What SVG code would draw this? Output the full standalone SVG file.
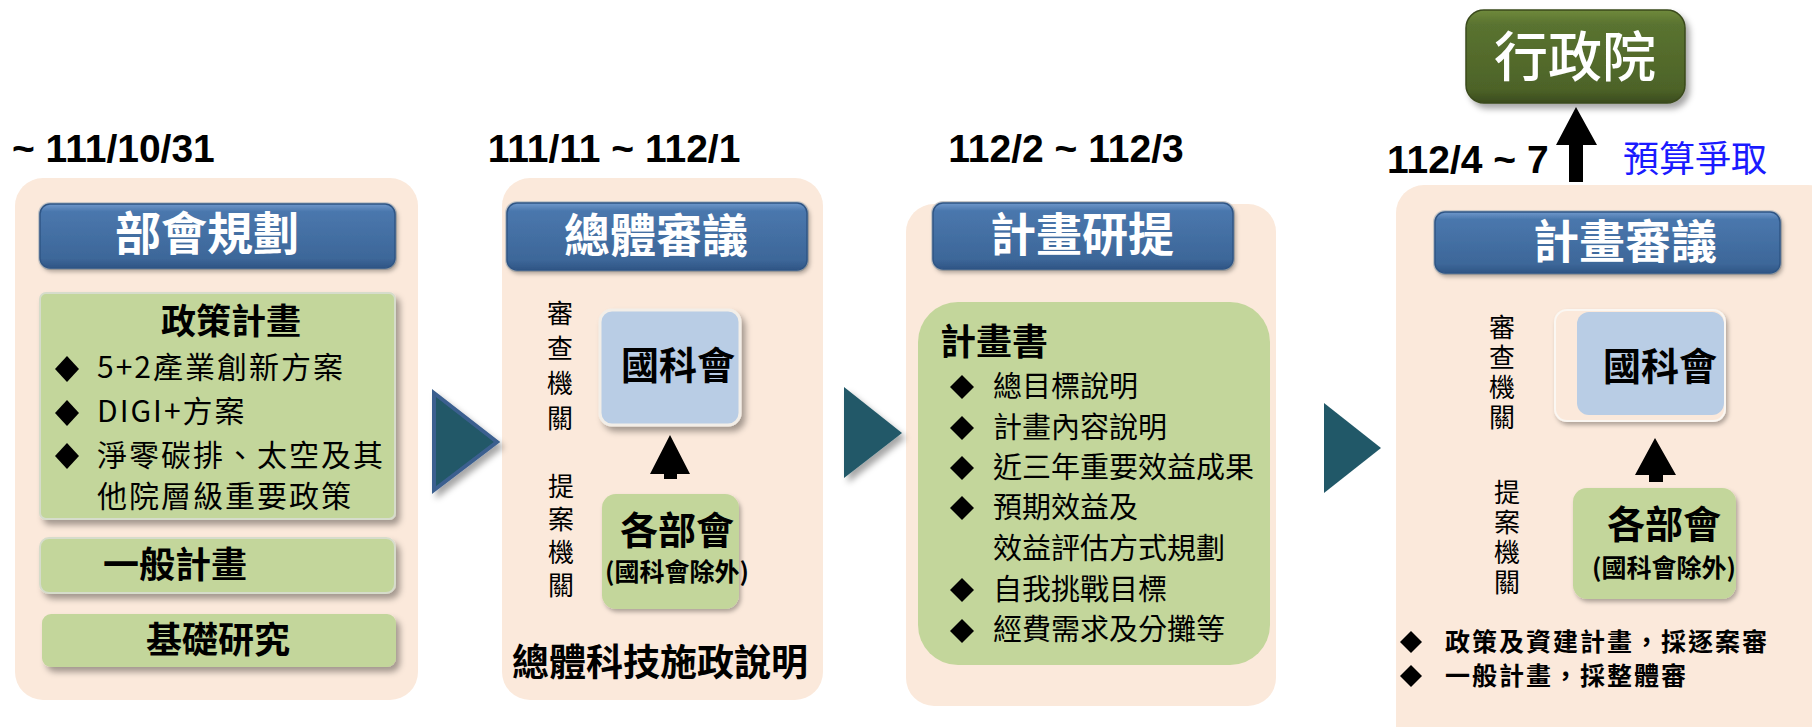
<svg xmlns="http://www.w3.org/2000/svg" width="1812" height="727" viewBox="0 0 1812 727">
<style>
.panel{fill:#FBE9DB}
.hdr{fill:url(#gBlue);stroke:#2f5585;stroke-width:1.5}
.hdrOut{fill:none;stroke:#c9c9c9;stroke-width:2}
.hdrTxt{font-family:"Noto Sans CJK TC","Noto Sans CJK SC",sans-serif;font-weight:700;font-size:46px;fill:#ffffff;text-anchor:middle}
.date{font-family:"Liberation Sans",Arial,sans-serif;font-weight:700;font-size:39px;fill:#000}
.cjk{font-family:"Noto Sans CJK TC","Noto Sans CJK SC",sans-serif;fill:#000}
.vert{font-family:"Noto Sans CJK TC","Noto Sans CJK SC",sans-serif;fill:#000;font-size:26px;writing-mode:vertical-rl}
.b{font-weight:700}
.green{fill:#C3D69B}
.blue{fill:#B9CDE5}
.tri{fill:#215868}
.dia{fill:#000}
.up{fill:#000}
</style>
<defs>
<linearGradient id="gBlue" x1="0" y1="0" x2="0" y2="1">
<stop offset="0" stop-color="#6f98cb"/>
<stop offset="0.12" stop-color="#4a77ad"/>
<stop offset="0.85" stop-color="#3d6799"/>
<stop offset="1" stop-color="#2f5585"/>
</linearGradient>
<linearGradient id="gGreen" x1="0" y1="0" x2="0" y2="1">
<stop offset="0" stop-color="#6f8a3c"/>
<stop offset="0.15" stop-color="#5a7330"/>
<stop offset="0.85" stop-color="#4d6328"/>
<stop offset="1" stop-color="#3a4b1d"/>
</linearGradient>
<filter id="sh" x="-20%" y="-20%" width="140%" height="150%">
<feDropShadow dx="4" dy="5" stdDeviation="3" flood-color="#000" flood-opacity="0.35"/>
</filter>
<filter id="shs" x="-20%" y="-20%" width="140%" height="150%">
<feDropShadow dx="2" dy="3" stdDeviation="2" flood-color="#000" flood-opacity="0.3"/>
</filter>
</defs>

<!-- Stage 1 -->
<g id="stage1">
<text class="date" x="12" y="162">~ 111/10/31</text>
<rect class="panel" x="15" y="178" width="403" height="522" rx="28"/>
<g id="hdr1">
<rect class="hdrOut" x="39" y="203" width="357" height="66" rx="11"/>
<rect class="hdr" x="40" y="204" width="355" height="64" rx="10" filter="url(#shs)"/>
<text class="hdrTxt" x="207" y="250">部會規劃</text>
</g>
<g id="policy">
<rect class="green" x="40" y="293" width="355" height="226" rx="6" stroke="#d6dccb" stroke-width="2" filter="url(#sh)"/>
<text class="cjk b" x="231" y="334" font-size="35" text-anchor="middle">政策計畫</text>
<path class="dia" d="M67,356 L79,369 L67,382 L55,369 Z"/>
<path class="dia" d="M67,400 L79,413 L67,426 L55,413 Z"/>
<path class="dia" d="M67,443 L79,456 L67,469 L55,456 Z"/>
<g class="cjk" font-size="30" letter-spacing="2">
<text x="97" y="378">5+2產業創新方案</text>
<text x="97" y="422">DIGI+方案</text>
<text x="97" y="466">淨零碳排、太空及其</text>
<text x="97" y="507">他院層級重要政策</text>
</g>
</g>
<g id="general">
<rect class="green" x="40" y="538" width="355" height="55" rx="9" stroke="#d6dccb" stroke-width="2" filter="url(#sh)"/>
<text class="cjk b" font-size="36" x="103" y="578">一般計畫</text>
</g>
<g id="basic">
<rect class="green" x="42" y="614" width="354" height="53" rx="9" filter="url(#sh)"/>
<text class="cjk b" font-size="36" x="218" y="653" text-anchor="middle">基礎研究</text>
</g>
</g>

<!-- Stage 2 -->
<g id="stage2">
<text class="date" x="614" y="162" text-anchor="middle">111/11 ~ 112/1</text>
<rect class="panel" x="502" y="178" width="321" height="522" rx="28"/>
<g id="hdr2">
<rect class="hdrOut" x="506" y="202" width="302" height="69" rx="11"/>
<rect class="hdr" x="507" y="203" width="300" height="67" rx="10" filter="url(#shs)"/>
<text class="hdrTxt" x="656" y="252">總體審議</text>
</g>
<text class="vert" x="560" y="300" letter-spacing="9">審查機關</text>
<text class="vert" x="561" y="473" letter-spacing="7">提案機關</text>
<g id="nstc2">
<rect class="blue" x="600" y="310" width="140" height="115" rx="12" stroke="#f2eee8" stroke-width="3" filter="url(#sh)"/>
<text class="cjk b" font-size="38" x="678" y="379" text-anchor="middle">國科會</text>
</g>
<g id="min2">
<rect class="green" x="602" y="494" width="137" height="115" rx="14" filter="url(#shs)"/>
<text class="cjk b" font-size="38" x="677" y="544" text-anchor="middle">各部會</text>
<text class="cjk b" font-size="25" x="677" y="581" text-anchor="middle">(國科會除外)</text>
</g>
<text class="cjk b" font-size="37" x="512" y="676">總體科技施政說明</text>
</g>

<!-- Stage 3 -->
<g id="stage3">
<text class="date" x="1066" y="162" text-anchor="middle">112/2 ~ 112/3</text>
<rect class="panel" x="906" y="204" width="370" height="502" rx="28"/>
<g id="hdr3">
<rect class="hdrOut" x="932" y="202" width="302" height="68" rx="11"/>
<rect class="hdr" x="933" y="203" width="300" height="66" rx="10" filter="url(#shs)"/>
<text class="hdrTxt" x="1082" y="251">計畫研提</text>
</g>
<g id="plan">
<rect class="green" x="918" y="302" width="352" height="363" rx="40"/>
<text class="cjk b" font-size="36" x="940" y="355">計畫書</text>
<path class="dia" d="M962,375 L974,387 L962,399 L950,387 Z"/>
<path class="dia" d="M962,416 L974,428 L962,440 L950,428 Z"/>
<path class="dia" d="M962,456 L974,468 L962,480 L950,468 Z"/>
<path class="dia" d="M962,496 L974,508 L962,520 L950,508 Z"/>
<path class="dia" d="M962,578 L974,590 L962,602 L950,590 Z"/>
<path class="dia" d="M962,619 L974,631 L962,643 L950,631 Z"/>
<g class="cjk" font-size="29">
<text x="993" y="397">總目標說明</text>
<text x="993" y="438">計畫內容說明</text>
<text x="993" y="478">近三年重要效益成果</text>
<text x="993" y="518">預期效益及</text>
<text x="993" y="559">效益評估方式規劃</text>
<text x="993" y="600">自我挑戰目標</text>
<text x="993" y="640">經費需求及分攤等</text>
</g>
</g>
</g>

<!-- Stage 4 -->
<g id="stage4">
<text class="date" x="1387" y="173">112/4 ~ 7</text>
<text class="cjk" font-size="36" x="1623" y="172" style="fill:#1a1aff">預算爭取</text>
<rect class="panel" x="1396" y="185" width="440" height="570" rx="28"/>
<g id="hdr4">
<rect class="hdrOut" x="1434" y="211" width="347" height="63" rx="11"/>
<rect class="hdr" x="1435" y="212" width="345" height="61" rx="10" filter="url(#shs)"/>
<text class="hdrTxt" x="1625" y="258">計畫審議</text>
</g>
<text class="vert" x="1502" y="314" letter-spacing="4">審查機關</text>
<text class="vert" x="1507" y="479" letter-spacing="4">提案機關</text>
<g id="nstc4">
<rect x="1555" y="310" width="170" height="111" rx="12" fill="#FBE9DB" stroke="#fbf7f2" stroke-width="2" filter="url(#shs)"/>
<rect class="blue" x="1577" y="312" width="147" height="103" rx="12"/>
<text class="cjk b" font-size="38" x="1660" y="380" text-anchor="middle">國科會</text>
</g>
<g id="min4">
<rect class="green" x="1573" y="488" width="163" height="111" rx="14" filter="url(#shs)"/>
<text class="cjk b" font-size="38" x="1664" y="538" text-anchor="middle">各部會</text>
<text class="cjk b" font-size="25" x="1664" y="577" text-anchor="middle">(國科會除外)</text>
</g>
<path class="dia" d="M1411,631 L1422,642 L1411,653 L1400,642 Z"/>
<path class="dia" d="M1411,665 L1422,676 L1411,687 L1400,676 Z"/>
<g class="cjk b" font-size="25" letter-spacing="2">
<text x="1445" y="651">政策及資建計畫，採逐案審</text>
<text x="1445" y="685">一般計畫，採整體審</text>
</g>
</g>

<g id="exec">
<rect x="1466" y="10" width="219" height="93" rx="18" fill="url(#gGreen)" stroke="#3a4a1c" stroke-width="1.5" filter="url(#sh)"/>
<text class="cjk" font-size="54" font-weight="500" x="1575" y="77" text-anchor="middle" style="fill:#ffffff">行政院</text>
</g>

<g id="connectors">
<polygon class="tri" points="434,393 497,442 434,490" stroke="#3b5f8f" stroke-width="4" stroke-linejoin="miter" filter="url(#sh)"/>
<polygon class="tri" points="844,387 902,433 844,478" filter="url(#sh)"/>
<polygon class="tri" points="1324,403 1381,448 1324,493"/>
<polygon class="up" points="650,474 670,435 690,474 677,474 677,479 664,479 664,474"/>
<polygon class="up" points="1635,475 1655,438 1676,475 1663,475 1663,482 1649,482 1649,475"/>
<polygon class="up" points="1556,145 1576,107 1597,145 1583,145 1583,182 1569,182 1569,145"/>
</g>
</svg>
